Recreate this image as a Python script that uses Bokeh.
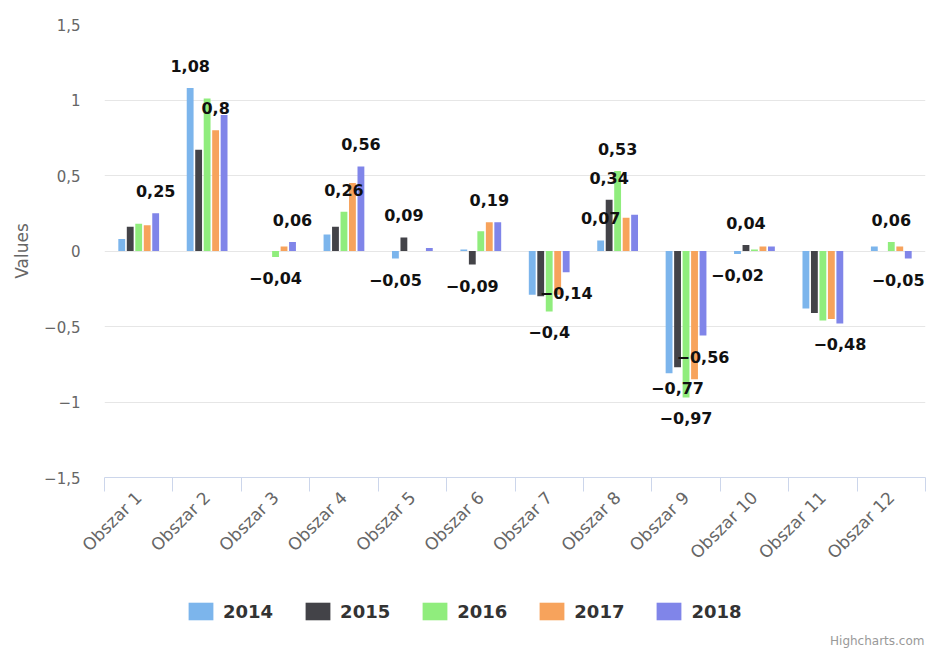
import numpy as np
from bokeh.plotting import figure
from bokeh.layouts import column
from bokeh.models import (ColumnDataSource, Range1d, FixedTicker, Legend,
                          LegendItem, Label)
from bokeh.core.properties import value
from bokeh.embed import file_html
from bokeh.resources import INLINE

# ---------------- data ----------------
categories = ["Obszar 1", "Obszar 2", "Obszar 3", "Obszar 4", "Obszar 5", "Obszar 6",
              "Obszar 7", "Obszar 8", "Obszar 9", "Obszar 10", "Obszar 11", "Obszar 12"]
years = ["2014", "2015", "2016", "2017", "2018"]
v2014 = [0.08, 1.08, 0.00, 0.11, -0.05, 0.01, -0.29, 0.07, -0.81, -0.02, -0.38, 0.03]
v2015 = [0.16, 0.67, 0.00, 0.16, 0.09, -0.09, -0.30, 0.34, -0.77, 0.04, -0.41, 0.00]
v2016 = [0.18, 1.01, -0.04, 0.26, 0.00, 0.13, -0.40, 0.53, -0.97, 0.01, -0.46, 0.06]
v2017 = [0.17, 0.80, 0.03, 0.45, 0.00, 0.19, -0.29, 0.22, -0.85, 0.03, -0.45, 0.03]
v2018 = [0.25, 0.90, 0.06, 0.56, 0.02, 0.19, -0.14, 0.24, -0.56, 0.03, -0.48, -0.05]
colors = ["#7cb5ec", "#434348", "#90ed7d", "#f7a35c", "#8085e9"]

y_ticks = [-1.5, -1, -0.5, 0, 0.5, 1, 1.5]
y_tick_labels = ["\u22121,5", "\u22121", "\u22120,5", "0", "0,5", "1", "1,5"]

# data labels that are visible in the original (category index, year)
labelled_points = [(0, "2018"), (1, "2014"), (1, "2017"), (2, "2016"), (2, "2018"),
                   (3, "2016"), (3, "2018"), (4, "2014"), (4, "2015"), (5, "2015"),
                   (5, "2017"), (6, "2016"), (6, "2018"), (7, "2014"), (7, "2015"),
                   (7, "2016"), (8, "2015"), (8, "2016"), (8, "2018"), (9, "2014"),
                   (9, "2015"), (10, "2018"), (11, "2016"), (11, "2018")]

series = [v2014, v2015, v2016, v2017, v2018]

# ---------------- main figure ----------------
W = 931
H1, H2 = 585, 63
BL, BR, BT, BB = 104, 6, 24, 108
FW = W - BL - BR
p = figure(width=W, height=H1, x_range=Range1d(0, len(categories)),
           y_range=Range1d(-1.5, 1.5), output_backend="svg", toolbar_location=None,
           min_border_left=BL, min_border_right=BR, min_border_top=BT,
           min_border_bottom=BB)
p.outline_line_color = None
p.background_fill_color = "white"
p.border_fill_color = "white"

n = len(years)
step = 0.124
bar_w = 0.1

def xpos(i, j):
    return i + 0.5 + (j - (n - 1) / 2) * step

for j, (yr, vals, c) in enumerate(zip(years, series, colors)):
    xs = [xpos(i, j) for i in range(len(categories))]
    src = ColumnDataSource(dict(x=xs, top=vals, cat=categories))
    p.vbar(x="x", top="top", bottom=0, width=bar_w, source=src,
           fill_color=c, line_color=None)

# data labels (kept inside the plot area like Highcharts' "justify")
px_per_unit = FW / len(categories)
lx, ly, lt, lyoff, lxoff = [], [], [], [], []
for ci, yr in labelled_points:
    j = years.index(yr)
    v = series[j][ci]
    txt = f"{v:g}".replace(".", ",").replace("-", "\u2212")
    x = xpos(ci, j)
    half = 16 * 0.66 * len(txt) / 2
    right_px = x * px_per_unit + half
    lxoff.append(min(0.0, (FW - 1) - right_px))
    lx.append(x)
    ly.append(v)
    lt.append(txt)
    lyoff.append(-22 if v >= 0 else 21)
lsrc = ColumnDataSource(dict(x=lx, y=ly, text=lt, yoff=lyoff, xoff=lxoff))
p.text(x="x", y="y", text="text", y_offset="yoff", x_offset="xoff", source=lsrc,
       text_align="center", text_baseline="middle",
       text_font=value("DejaVu Sans"), text_font_style="bold",
       text_font_size="16px", text_color="#111111")

# ---------------- axes ----------------
xa = p.xaxis[0]
xa.ticker = FixedTicker(ticks=[i + 0.5 for i in range(len(categories))],
                        minor_ticks=list(range(len(categories) + 1)))
xa.major_label_overrides = {i + 0.5: c for i, c in enumerate(categories)}
xa.major_tick_out = 0
xa.major_tick_in = 0
xa.minor_tick_out = 14
xa.minor_tick_in = 0
xa.minor_tick_line_color = "#ccd6eb"
xa.axis_line_color = "#ccd6eb"
xa.major_label_orientation = np.pi / 4
xa.major_label_standoff = 3
xa.major_label_text_font = "DejaVu Sans"
xa.major_label_text_font_size = "17px"
xa.major_label_text_color = "#666666"

ya = p.yaxis[0]
ya.ticker = FixedTicker(ticks=y_ticks)
ya.major_label_overrides = {t: l for t, l in zip(y_ticks, y_tick_labels)}
ya.axis_line_color = None
ya.major_tick_line_color = None
ya.minor_tick_line_color = None
ya.major_tick_out = 0
ya.major_label_standoff = 24
ya.major_label_text_font = "DejaVu Sans"
ya.major_label_text_font_size = "15px"
ya.major_label_text_color = "#666666"
ya.axis_label = "Values"
ya.axis_label_text_font = "DejaVu Sans"
ya.axis_label_text_font_size = "17px"
ya.axis_label_text_font_style = "normal"
ya.axis_label_text_color = "#666666"
ya.axis_label_standoff = 9

p.xgrid.grid_line_color = None
p.ygrid.grid_line_color = "#e6e6e6"
p.ygrid.ticker = FixedTicker(ticks=y_ticks)

# ---------------- legend strip ----------------
q = figure(width=W, height=H2, x_range=Range1d(0, 1), y_range=Range1d(0, 1),
           output_backend="svg", toolbar_location=None,
           min_border_left=BL, min_border_right=BR, min_border_top=0,
           min_border_bottom=0)
q.axis.visible = False
q.grid.visible = False
q.outline_line_color = None
q.background_fill_color = "white"
q.border_fill_color = "white"

swatches = []
for c in colors:
    # legend-only renderers, placed outside the visible range
    swatches.append(q.vbar(x=[-5], top=[0], width=0.1, fill_color=c, line_color=None))
items = [LegendItem(label=yr, renderers=[r]) for yr, r in zip(years, swatches)]
legend = Legend(items=items, orientation="horizontal", location=(81, 26),
                glyph_width=31, glyph_height=22, label_standoff=7, spacing=29,
                padding=0, margin=0, border_line_color=None,
                background_fill_alpha=0,
                label_text_font="DejaVu Sans", label_text_font_style="bold",
                label_text_font_size="18px", label_text_color="#333333")
q.add_layout(legend, "center")

credits = Label(x=FW - 1, y=1, x_units="screen", y_units="screen",
                text="Highcharts.com", text_align="right", text_baseline="bottom",
                text_font="DejaVu Sans", text_font_size="12px",
                text_color="#999999")
q.add_layout(credits)

layout = column(p, q, spacing=0)
open("out.html", "w").write(file_html(layout, INLINE))
